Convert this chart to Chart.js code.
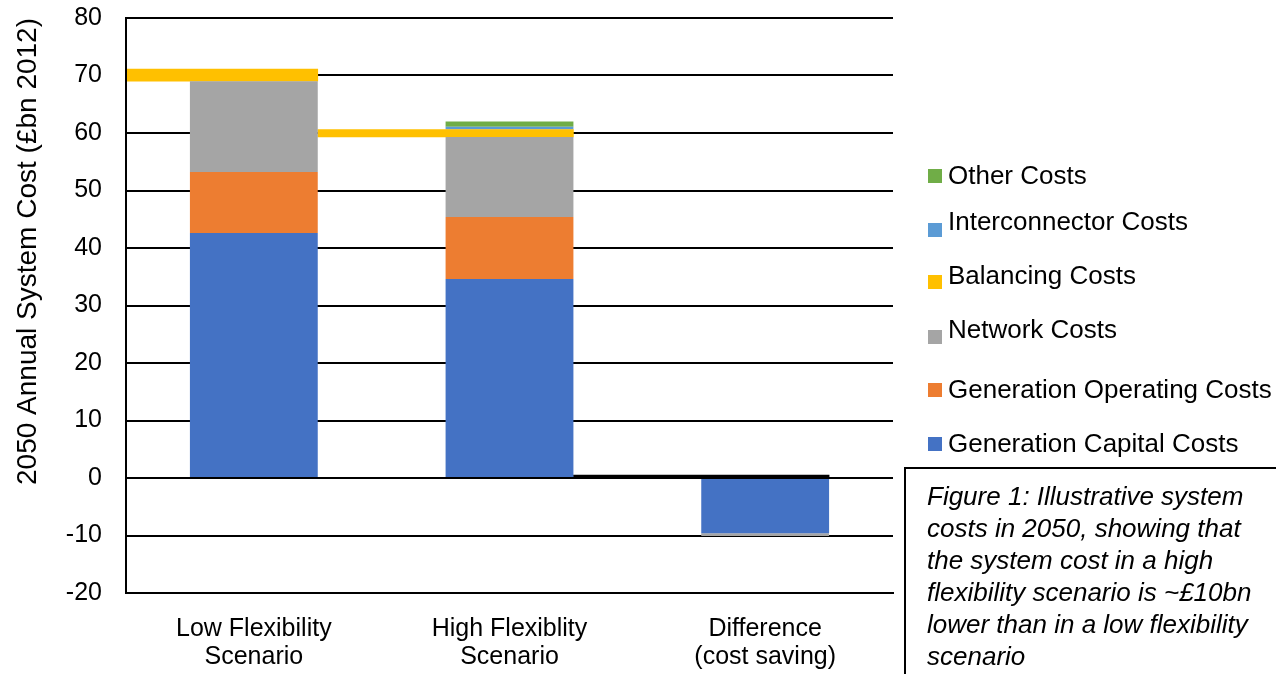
<!DOCTYPE html>
<html>
<head>
<meta charset="utf-8">
<title>2050 Annual System Cost</title>
<script src="https://cdn.jsdelivr.net/npm/chart.js@4.4.0/dist/chart.umd.min.js"></script>
<style>
  html, body { margin: 0; padding: 0; background: #fff; }
  #wrap { position: relative; width: 1276px; height: 674px; overflow: hidden;
          font-family: "Liberation Sans", Arial, sans-serif; color: #000; }
  #chart { position: absolute; left: 0; top: 0; }
  .legend-item { position: absolute; left: 948px; font-size: 26px; line-height: 30px; white-space: nowrap; }
  .legend-box { position: absolute; left: -20px; width: 14px; height: 14px; }
  #caption { position: absolute; left: 904px; top: 467px; width: 420px; height: 260px;
             box-sizing: border-box; border-left: 2px solid #000; border-top: 2px solid #000;
             padding: 11px 0 0 21px; font-style: italic; font-size: 26px; line-height: 32px; white-space: nowrap; }
</style>
</head>
<body>
<div id="wrap">
  <canvas id="chart" width="1276" height="674"></canvas>
  <div id="legend"></div>
  <div id="caption">Figure 1: Illustrative system<br>costs in 2050, showing that<br>the system cost in a high<br>flexibility scenario is ~£10bn<br>lower than in a low flexibility<br>scenario</div>
</div>
<script>
// Scenarios on the horizontal axis
const categories = [
  ['Low Flexibility', 'Scenario'],
  ['High Flexiblity', 'Scenario'],
  ['Difference', '(cost saving)']
];

// Cost components, £bn (2012 prices), in stacking order from the bottom up
const generationCapital   = [42.6, 34.6, -9.6];
const generationOperating = [10.6, 10.8, 0];
const networkCosts        = [15.8, 13.9, -0.5];
const balancingCosts      = [2.1, 1.3, 0.5];
const interconnectorCosts = [0, 0.5, 0];
const otherCosts          = [0, 0.9, 0];

const seriesNames = [
  'Generation Capital Costs',
  'Generation Operating Costs',
  'Network Costs',
  'Balancing Costs',
  'Interconnector Costs',
  'Other Costs'
];

// Value axis ticks
const yTickValues = [-20, -10, 0, 10, 20, 30, 40, 50, 60, 70, 80];

// ---- styling ----
const seriesColors = ['#4472C4', '#ED7D31', '#A5A5A5', '#FFC000', '#5B9BD5', '#70AD47'];
const balancingPointColors = ['#FFC000', '#FFC000', '#000000'];
const BALANCING_SHIFT = -0.25;   // balancing band sits half a bar to the left, one category wide
const FONT = '"Liberation Sans", Arial, sans-serif';

// Build floating [start, end] ranges by stacking positives up and negatives down
const stackSeries = [generationCapital, generationOperating, networkCosts,
                     balancingCosts, interconnectorCosts, otherCosts];
const posBase = categories.map(() => 0);
const negBase = categories.map(() => 0);
const ranges = stackSeries.map(values => values.map((v, i) => {
  if (v >= 0) { const r = [posBase[i], posBase[i] + v]; posBase[i] += v; return r; }
  const r = [negBase[i] + v, negBase[i]]; negBase[i] += v; return r;
}));

const datasets = seriesNames.map((name, k) => {
  if (k === 3) {
    return {
      label: name,
      xAxisID: 'xb',
      data: ranges[k].map((r, i) => ({ x: i + BALANCING_SHIFT, y: r })),
      backgroundColor: balancingPointColors,
      barPercentage: 1,
      categoryPercentage: 1,
      grouped: false,
      borderWidth: 0,
      clip: { left: -1, top: 0, right: 0, bottom: 0 }
    };
  }
  return {
    label: name,
    xAxisID: 'x',
    data: ranges[k].map(r => (r[0] === r[1] ? null : r)),
    backgroundColor: seriesColors[k],
    barPercentage: 0.5,
    categoryPercentage: 1,
    grouped: false,
    borderWidth: 0
  };
});

const chart = new Chart(document.getElementById('chart'), {
  type: 'bar',
  data: { labels: categories, datasets },
  options: {
    responsive: false,
    animation: false,
    events: [],
    layout: { padding: { top: 18, right: 383, bottom: 0, left: 0 } },
    plugins: { legend: { display: false }, tooltip: { enabled: false } },
    scales: {
      x: {
        type: 'category',
        offset: true,
        grid: { display: false, drawTicks: false },
        border: { display: true, color: '#000', width: 2 },
        ticks: {
          color: '#000',
          padding: 22,
          maxRotation: 0,
          autoSkip: false,
          font: { family: FONT, size: 25, lineHeight: 1.12 }
        },
        afterFit: s => { s.height = 81; s.paddingLeft = 0; s.paddingRight = 0; }
      },
      xb: {
        type: 'linear',
        display: false,
        offset: false,
        min: -0.5,
        max: categories.length - 0.5,
        grid: { display: false },
        afterBuildTicks: s => { s.ticks = [{ value: s.min }, { value: s.max }]; }
      },
      y: {
        type: 'linear',
        min: yTickValues[0],
        max: yTickValues[yTickValues.length - 1],
        afterBuildTicks: s => { s.ticks = yTickValues.map(v => ({ value: v })); },
        grid: { color: '#000', lineWidth: 2, drawTicks: false },
        border: { display: true, color: '#000', width: 2 },
        ticks: {
          color: '#000',
          padding: 24,
          font: { family: FONT, size: 25 }
        },
        title: {
          display: true,
          text: '2050 Annual System Cost (£bn 2012)',
          color: '#000',
          align: 'end',
          padding: { top: 11, bottom: 0 },
          font: { family: FONT, size: 28 }
        },
        afterFit: s => { s.width = 126; s.paddingTop = 0; s.paddingBottom = 0; }
      }
    }
  }
});

// Legend listed top-down in reverse stacking order
const legendRowTop = [160, 206, 260, 314, 374, 428];
const legendBoxTop = [9, 17, 15, 16, 9, 9];
const legendEl = document.getElementById('legend');
chart.data.datasets.slice().reverse().forEach((ds, row) => {
  const k = seriesNames.indexOf(ds.label);
  const item = document.createElement('div');
  item.className = 'legend-item';
  item.style.top = legendRowTop[row] + 'px';
  const box = document.createElement('span');
  box.className = 'legend-box';
  box.style.top = legendBoxTop[row] + 'px';
  box.style.background = seriesColors[k];
  item.appendChild(box);
  item.appendChild(document.createTextNode(ds.label));
  legendEl.appendChild(item);
});
</script>
</body>
</html>
